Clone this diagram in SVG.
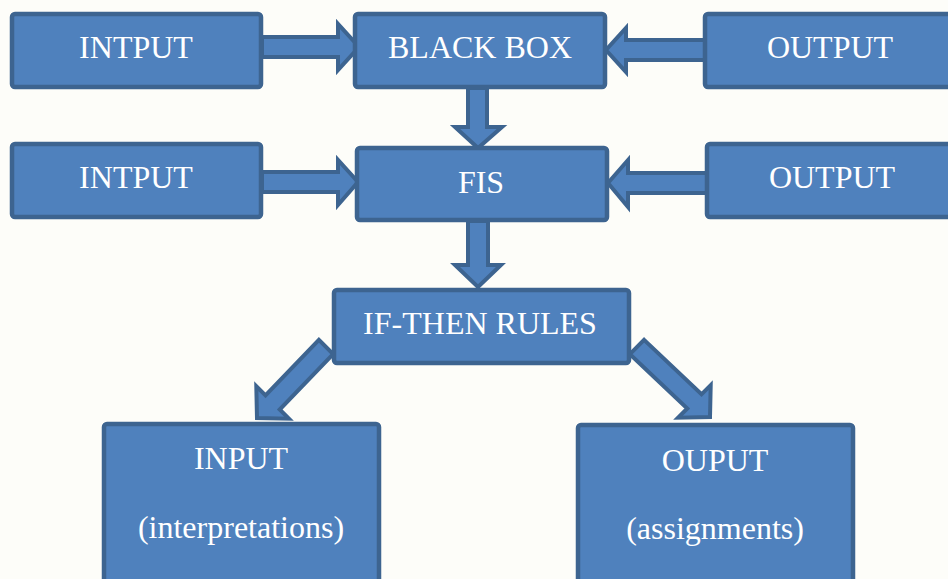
<svg xmlns="http://www.w3.org/2000/svg" width="948" height="579" viewBox="0 0 948 579">
<style>
.box{fill:#4f81bd;stroke:#3d6490;stroke-width:4.5}
.arr{fill:#4f81bd;stroke:#3d6490;stroke-width:4;stroke-linejoin:miter}
.t{font-family:'Liberation Serif','DejaVu Serif',serif;font-size:32px;fill:#ffffff;text-anchor:middle}
</style>
<rect x="0" y="0" width="948" height="579" fill="#fdfdf9"/>
<g id="connectors">
<polygon class="arr" points="262,37 338,37 338,24 359,47 338,70 338,57 262,57"/>
<polygon class="arr" points="705,40 626,40 626,28 606,50 626,72 626,60 705,60"/>
<polygon class="arr" points="262,172 338,172 338,160 358,182 338,205 338,192 262,192"/>
<polygon class="arr" points="708,173 628,173 628,160 608,183 628,207 628,193 708,193"/>
<polygon class="arr" points="468,88 487,88 487,127 502,127 478,148 455,127 468,127"/>
<polygon class="arr" points="468,221 488,221 488,265 501,265 478,287 455,265 468,265"/>
<polygon class="arr" points="333.1,354.1 279.7,409.5 288.9,418.7 257,418 256.3,386.1 265.5,395.3 318.9,339.9"/>
<polygon class="arr" points="644.1,339.9 701.5,394.3 710.7,385.1 710,417 678.1,417.7 687.3,408.5 629.9,354.1"/>
</g>
<g id="intput1"><rect class="box" x="12" y="14" width="249" height="73" rx="3"/><text class="t" x="136" y="58">INTPUT</text></g>
<g id="blackbox"><rect class="box" x="355" y="14" width="250" height="73" rx="3"/><text class="t" x="480" y="58">BLACK BOX</text></g>
<g id="output1"><rect class="box" x="705" y="14" width="250" height="73" rx="3"/><text class="t" x="830" y="58">OUTPUT</text></g>
<g id="intput2"><rect class="box" x="12" y="144" width="249" height="73" rx="3"/><text class="t" x="136" y="188">INTPUT</text></g>
<g id="fis"><rect class="box" x="357" y="148" width="250" height="72" rx="3"/><text class="t" x="481" y="193">FIS</text></g>
<g id="output2"><rect class="box" x="707" y="144" width="250" height="73" rx="3"/><text class="t" x="832" y="188">OUTPUT</text></g>
<g id="ifthen"><rect class="box" x="334" y="290" width="295" height="73" rx="3"/><text class="t" x="480" y="334">IF-THEN RULES</text></g>
<g id="input"><rect class="box" x="104" y="424" width="275" height="170" rx="3"/><text class="t" x="241" y="469">INPUT</text><text class="t" x="241" y="538">(interpretations)</text></g>
<g id="ouput"><rect class="box" x="578" y="425" width="275" height="170" rx="3"/><text class="t" x="715" y="471">OUPUT</text><text class="t" x="715" y="539">(assignments)</text></g>
</svg>
